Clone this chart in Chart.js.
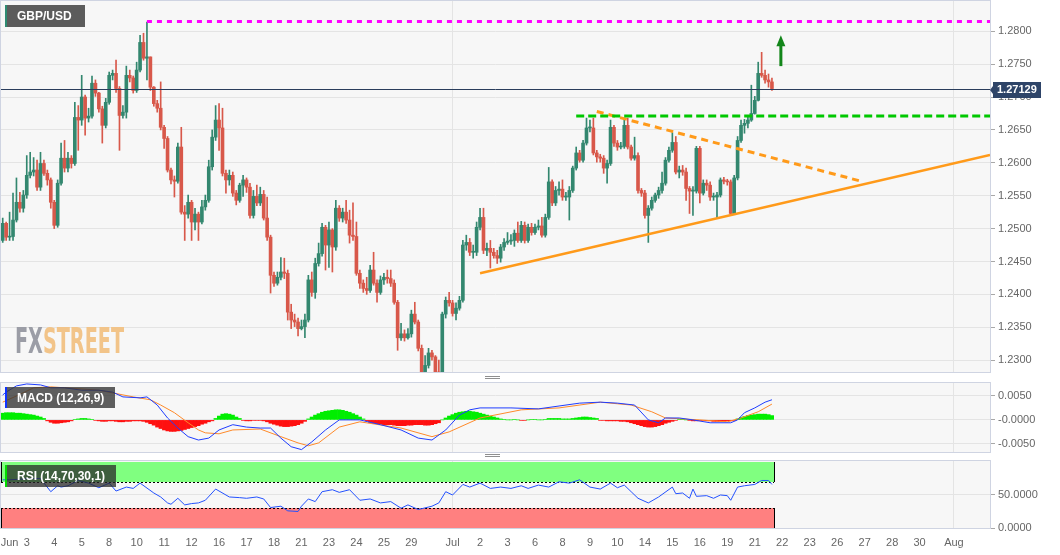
<!DOCTYPE html>
<html>
<head>
<meta charset="utf-8">
<title>GBP/USD</title>
<script src="https://cdn.jsdelivr.net/npm/chart.js@4.4.1/dist/chart.umd.min.js"></script>
<style>
  html, body { margin: 0; padding: 0; background: #fff; }
  #wrap { position: relative; width: 1060px; height: 555px; overflow: hidden; }
  #wrap canvas { position: absolute; left: 0; }
  .grip { position: absolute; left: 485px; width: 15px; height: 1px; border-top: 1px solid #8f8f8f; border-bottom: 1px solid #8f8f8f; }
</style>
</head>
<body>
<div id="wrap">
  <canvas id="price" width="1060" height="378" style="top:0"></canvas>
  <canvas id="macd" width="1060" height="77" style="top:379px"></canvas>
  <canvas id="rsi" width="1060" height="98" style="top:457px"></canvas>
  <div class="grip" style="top:376px"></div>
  <div class="grip" style="top:454px"></div>
</div>
<script>
// 4h candles, GBP/USD
const firstOpen = 1.2482;
const closes = [
  1.2508,1.2487,1.2488,1.2513,1.2540,1.2531,1.2551,1.2581,1.2586,1.2589,
  1.2563,1.2599,1.2584,1.2574,1.2540,1.2505,1.2569,1.2607,1.2592,1.2607,
  1.2599,1.2669,1.2665,1.2700,1.2668,1.2671,1.2721,1.2706,1.2682,1.2657,
  1.2692,1.2733,1.2736,1.2713,1.2672,1.2677,1.2733,1.2729,1.2710,1.2741,
  1.2783,1.2759,1.2761,1.2715,1.2690,1.2683,1.2654,1.2637,1.2589,1.2574,
  1.2572,1.2624,1.2525,1.2522,1.2540,1.2510,1.2522,1.2510,1.2533,1.2543,
  1.2594,1.2639,1.2665,1.2653,1.2584,1.2574,1.2581,1.2554,1.2543,1.2566,
  1.2574,1.2563,1.2520,1.2549,1.2539,1.2552,1.2516,1.2487,1.2429,1.2417,
  1.2426,1.2434,1.2432,1.2373,1.2361,1.2358,1.2348,1.2351,1.2361,1.2422,
  1.2403,1.2447,1.2462,1.2502,1.2475,1.2498,1.2472,1.2531,1.2516,1.2525,
  1.2513,1.2490,1.2488,1.2432,1.2417,1.2409,1.2406,1.2437,1.2417,1.2403,
  1.2422,1.2426,1.2424,1.2417,1.2388,1.2334,1.2340,1.2334,1.2340,1.2370,
  1.2358,1.2318,1.2280,1.2292,1.2311,1.2305,1.2282,1.2272,1.2370,1.2391,
  1.2387,1.2371,1.2379,1.2391,1.2475,1.2479,1.2464,1.2464,1.2502,1.2517,
  1.2467,1.2470,1.2464,1.2459,1.2455,1.2472,1.2479,1.2481,1.2482,1.2493,
  1.2482,1.2505,1.2482,1.2502,1.2494,1.2502,1.2504,1.2490,1.2517,1.2571,
  1.2539,1.2558,1.2560,1.2548,1.2548,1.2558,1.2592,1.2615,1.2604,1.2630,
  1.2653,1.2653,1.2615,1.2609,1.2607,1.2592,1.2599,1.2654,1.2630,1.2624,
  1.2625,1.2657,1.2624,1.2607,1.2611,1.2558,1.2554,1.2520,1.2531,1.2543,
  1.2551,1.2558,1.2569,1.2604,1.2619,1.2631,1.2586,1.2589,1.2586,1.2561,
  1.2557,1.2557,1.2622,1.2554,1.2569,1.2566,1.2548,1.2548,1.2551,1.2574,
  1.2572,1.2571,1.2523,1.2577,1.2634,1.2657,1.2660,1.2665,1.2675,1.2695,
  1.2736,1.2733,1.2726,1.2723,1.27129
];
const highs = [
  1.2516,1.2510,1.2525,1.2554,1.2577,1.2555,1.2558,1.2611,1.2616,1.2608,
  1.2604,1.2616,1.2604,1.2589,1.2577,1.2543,1.2574,1.2630,1.2634,1.2616,
  1.2611,1.2692,1.2687,1.2733,1.2703,1.2683,1.2732,1.2726,1.2707,1.2686,
  1.2698,1.2738,1.2741,1.2756,1.2716,1.2687,1.2747,1.2741,1.2732,1.2753,
  1.2794,1.2797,1.2814,1.2761,1.2716,1.2695,1.2723,1.2657,1.2640,1.2592,
  1.2580,1.2630,1.2654,1.2535,1.2551,1.2543,1.2531,1.2525,1.2543,1.2551,
  1.2604,1.2650,1.2687,1.2690,1.2683,1.2589,1.2589,1.2586,1.2558,1.2569,
  1.2581,1.2577,1.2569,1.2558,1.2566,1.2563,1.2558,1.2548,1.2490,1.2434,
  1.2434,1.2456,1.2455,1.2437,1.2385,1.2370,1.2364,1.2361,1.2370,1.2429,
  1.2434,1.2455,1.2478,1.2508,1.2505,1.2510,1.2500,1.2543,1.2535,1.2531,
  1.2543,1.2528,1.2539,1.2510,1.2437,1.2422,1.2426,1.2444,1.2464,1.2422,
  1.2428,1.2432,1.2437,1.2437,1.2422,1.2391,1.2356,1.2346,1.2348,1.2376,
  1.2388,1.2361,1.2323,1.2307,1.2318,1.2315,1.2307,1.2300,1.2373,1.2396,
  1.2403,1.2391,1.2387,1.2397,1.2482,1.2490,1.2485,1.2475,1.2510,1.2531,
  1.2531,1.2478,1.2482,1.2470,1.2467,1.2476,1.2485,1.2494,1.2491,1.2498,
  1.2510,1.2511,1.2510,1.2507,1.2508,1.2507,1.2513,1.2517,1.2522,1.2593,
  1.2574,1.2564,1.2571,1.2574,1.2555,1.2564,1.2595,1.2624,1.2619,1.2634,
  1.2668,1.2665,1.2668,1.2619,1.2613,1.2611,1.2604,1.2665,1.2657,1.2634,
  1.2631,1.2665,1.2668,1.2627,1.2639,1.2615,1.2561,1.2558,1.2535,1.2548,
  1.2554,1.2563,1.2586,1.2608,1.2624,1.2646,1.2640,1.2595,1.2596,1.2592,
  1.2564,1.2564,1.2625,1.2625,1.2574,1.2574,1.2571,1.2554,1.2555,1.2577,
  1.2578,1.2575,1.2574,1.2581,1.2640,1.2665,1.2666,1.2671,1.2718,1.2701,
  1.2753,1.2768,1.2741,1.2735,1.2729
];
const lows = [
  1.2479,1.2482,1.2482,1.2482,1.2510,1.2525,1.2525,1.2546,1.2577,1.2580,
  1.2558,1.2558,1.2581,1.2566,1.2531,1.2500,1.2502,1.2566,1.2586,1.2586,
  1.2592,1.2596,1.2619,1.2657,1.2642,1.2662,1.2668,1.2701,1.2677,1.2630,
  1.2653,1.2689,1.2726,1.2707,1.2619,1.2668,1.2668,1.2723,1.2706,1.2707,
  1.2738,1.2756,1.2726,1.2710,1.2686,1.2677,1.2650,1.2622,1.2586,1.2568,
  1.2548,1.2569,1.2522,1.2482,1.2516,1.2482,1.2498,1.2482,1.2507,1.2528,
  1.2540,1.2589,1.2634,1.2619,1.2580,1.2554,1.2566,1.2549,1.2536,1.2540,
  1.2549,1.2555,1.2516,1.2516,1.2535,1.2535,1.2513,1.2482,1.2402,1.2412,
  1.2414,1.2422,1.2424,1.2361,1.2348,1.2351,1.2337,1.2346,1.2334,1.2358,
  1.2397,1.2394,1.2443,1.2458,1.2437,1.2441,1.2434,1.2467,1.2511,1.2510,
  1.2508,1.2478,1.2482,1.2429,1.2409,1.2403,1.2400,1.2403,1.2414,1.2388,
  1.2400,1.2415,1.2417,1.2412,1.2385,1.2315,1.2330,1.2329,1.2332,1.2335,
  1.2355,1.2314,1.2272,1.2270,1.2288,1.2300,1.2272,1.2254,1.2266,1.2364,
  1.2382,1.2367,1.2361,1.2376,1.2388,1.2467,1.2459,1.2455,1.2459,1.2498,
  1.2462,1.2459,1.2440,1.2455,1.2447,1.2449,1.2467,1.2476,1.2476,1.2473,
  1.2479,1.2479,1.2478,1.2479,1.2490,1.2491,1.2498,1.2487,1.2487,1.2514,
  1.2535,1.2535,1.2551,1.2543,1.2543,1.2513,1.2555,1.2589,1.2601,1.2601,
  1.2627,1.2647,1.2612,1.2601,1.2601,1.2584,1.2569,1.2596,1.2625,1.2619,
  1.2621,1.2622,1.2621,1.2604,1.2604,1.2554,1.2549,1.2516,1.2479,1.2528,
  1.2540,1.2546,1.2554,1.2566,1.2601,1.2616,1.2583,1.2577,1.2581,1.2543,
  1.2523,1.2520,1.2554,1.2539,1.2551,1.2558,1.2543,1.2543,1.2516,1.2548,
  1.2568,1.2566,1.2520,1.2522,1.2574,1.2631,1.2645,1.2653,1.2663,1.2674,
  1.2694,1.2730,1.2721,1.2715,1.2710
];
// each candle opens where the previous one closed
const opens = [firstOpen].concat(closes.slice(0, -1));

// drawn levels: [bar, price]
const highLevel = [[42, 1.2815], [287.5, 1.2815]];
const breakLevel = [[167, 1.2671], [287.5, 1.2671]];
const fallingLine = [[173, 1.2678], [250, 1.2572]];
const risingLine = [[139, 1.2432], [287.5, 1.2612]];
const arrowMark = { bar: 226.6, from: 1.2747, to: 1.2794 };

// MACD (12,26,9): [bar, value]
const macdLine = [
  [0,0.0052],[1,0.0058],[4,0.0071],[7,0.0075],[11,0.0073],[14,0.0067],[18,0.0067],[23,0.0062],[28,0.0062],[32,0.0058],
  [35,0.0048],[40,0.0046],[42,0.0048],[45,0.0031],[48,0.0004],[51,-0.0017],[54,-0.0035],[57,-0.0042],[60,-0.0038],[63,-0.0021],
  [67,-0.0010],[71,-0.0015],[75,-0.0017],[78,-0.0017],[81,-0.0038],[84,-0.0056],[87,-0.0062],[90,-0.0046],[94,-0.0021],[98,0.0000],
  [104,0.0000],[110,-0.0010],[116,-0.0021],[121,-0.0038],[125,-0.0042],[129,-0.0021],[133,0.0010],[136,0.0021],[139,0.0025],[148,0.0025],
  [156,0.0023],[162,0.0029],[168,0.0035],[174,0.0037],[179,0.0035],[184,0.0031],[188,0.0000],[191,-0.0006],[193,0.0004],[197,0.0004],
  [201,0.0000],[206,-0.0006],[212,-0.0006],[214,0.0000],[216,0.0015],[219,0.0025],[222,0.0037],[224,0.0042]
];
const signalLine = [
  [0,0.0037],[4,0.0050],[9,0.0067],[14,0.0069],[18,0.0067],[28,0.0062],[38,0.0048],[43,0.0042],[46,0.0031],[50,0.0015],
  [54,-0.0006],[57,-0.0021],[59,-0.0027],[63,-0.0029],[67,-0.0021],[75,-0.0019],[81,-0.0035],[86,-0.0048],[89,-0.0054],[92,-0.0048],
  [98,-0.0015],[104,-0.0004],[116,-0.0017],[125,-0.0035],[130,-0.0025],[139,0.0004],[151,0.0021],[162,0.0025],[174,0.0037],[183,0.0031],
  [189,0.0017],[193,0.0004],[203,0.0000],[211,-0.0004],[215,0.0004],[220,0.0017],[224,0.0033]
];
const macdHist = [
  0.0014,0.0015,0.0015,0.0015,0.0014,0.0014,0.0013,0.0012,0.0011,0.0010,0.0008,0.0006,0.0003,
  -0.0002,-0.0005,-0.0007,-0.0007,-0.0006,-0.0005,-0.0004,-0.0002,
  0.0001,0.0002,0.0003,0.0003,0.0002,0.0001,
  -0.0001,-0.0002,-0.0003,-0.0003,-0.0002,-0.0002,-0.0003,-0.0004,-0.0004,-0.0003,-0.0003,-0.0002,-0.0002,-0.0002,
  -0.0003,-0.0005,-0.0008,-0.0011,-0.0015,-0.0018,-0.0021,-0.0023,-0.0024,-0.0024,-0.0023,-0.0022,-0.0020,-0.0018,-0.0016,-0.0014,-0.0012,-0.0009,-0.0007,-0.0004,-0.0002,
  0.0003,0.0008,0.0012,0.0013,0.0012,0.0010,0.0006,0.0003,
  -0.0001,-0.0002,-0.0002,-0.0001,-0.0001,-0.0001,
  -0.0002,-0.0004,-0.0007,-0.0009,-0.0011,-0.0013,-0.0014,-0.0014,-0.0013,-0.0012,-0.0010,-0.0007,-0.0003,
  0.0002,0.0006,0.0010,0.0013,0.0016,0.0018,0.0019,0.0020,0.0021,0.0021,0.0020,0.0018,0.0016,0.0013,0.0010,
  0.0006,0.0002,-0.0002,-0.0005,-0.0007,-0.0008,-0.0009,-0.0010,-0.0010,-0.0010,-0.0011,-0.0012,-0.0012,-0.0012,-0.0011,-0.0011,-0.0010,-0.0010,-0.0010,-0.0011,-0.0011,-0.0010,-0.0008,-0.0006,
  0.0000,0.0004,0.0008,0.0011,0.0014,0.0016,0.0017,0.0018,0.0018,0.0017,0.0016,0.0014,0.0012,0.0010,0.0008,0.0006,0.0004,
  0.0002,0.0001,0.0000,0.0000,0.0001,0.0000,-0.0001,-0.0001,0.0000,0.0001,0.0001,0.0000,0.0000,0.0001,0.0003,0.0003,0.0003,0.0003,0.0002,0.0002,0.0002,0.0003,0.0004,0.0005,0.0006,0.0006,0.0005,0.0004,0.0003,
  -0.0001,-0.0001,-0.0002,-0.0002,-0.0002,-0.0002,-0.0003,-0.0003,-0.0004,-0.0006,-0.0008,-0.0010,-0.0012,-0.0014,-0.0015,-0.0015,-0.0014,-0.0012,-0.0010,-0.0007,-0.0005,-0.0003,-0.0001,
  0.0001,0.0001,0.0000,-0.0001,-0.0002,-0.0002,-0.0001,-0.0001,-0.0002,-0.0002,-0.0003,-0.0003,-0.0003,-0.0003,-0.0002,-0.0002,-0.0001,
  0.0002,0.0005,0.0007,0.0009,0.0010,0.0011,0.0012,0.0012,0.0012,0.0011,0.0009
];

// RSI (14): [bar, value]
const rsiPoints = [
  [0,73],[2,73],[8,75],[11,75],[14,55],[16,64],[17,62],[19,64],[22,72],[25,68],[28,61],[31,68],[33,56],[36,62],[38,60],
  [40,68],[44,53],[46,47],[48,38],[49,36],[51,45],[53,35],[55,37],[57,38],[59,42],[62,59],[66,47],[69,46],[71,45],[74,47],
  [76,44],[78,31],[81,33],[83,26],[86,25],[87,33],[89,44],[91,40],[93,55],[96,58],[98,54],[101,58],[104,42],[107,44],[110,38],
  [113,40],[116,30],[118,35],[121,28],[125,33],[127,38],[129,55],[131,50],[134,66],[136,62],[139,68],[142,60],[145,62],[148,60],[151,64],
  [153,60],[156,65],[159,62],[162,70],[165,68],[168,73],[171,62],[174,59],[177,68],[179,61],[181,65],[183,55],[185,45],[188,38],[191,47],
  [195,62],[196,52],[198,53],[200,45],[201,59],[202,48],[205,49],[207,45],[209,50],[211,49],[212,42],[214,62],[216,64],[219,66],[221,72],
  [223,72],[224,66]
];

// axis ticks
const priceTicks = [1.23, 1.235, 1.24, 1.245, 1.25, 1.255, 1.26, 1.265, 1.27, 1.275, 1.28];
const macdTicks = [-0.005, 0, 0.005];
const rsiTicks = [0, 50];
const dateTickBars = [2, 7, 15, 23, 31, 39, 47, 55, 63, 71, 79, 87, 95, 103, 111, 119, 131, 139, 147, 155, 163, 171, 179, 187, 195, 203, 211, 219, 227, 235, 243, 251, 259, 267, 277];
const dateTickLabels = ['Jun','3','4','5','8','10','11','12','16','17','18','21','23','24','25','29','Jul','2','3','6','8','9','10','14','15','16','19','21','22','23','26','27','28','30','Aug'];
const monthBars = [131, 277];

Chart.defaults.font.family = '"Liberation Sans", Arial, Helvetica, sans-serif';
Chart.defaults.font.size = 11;
Chart.defaults.color = '#666';

const X_MIN = -0.5, X_MAX = 287.5;
const GRID = '#e4e4e4';
const lastPrice = closes[closes.length - 1];
const upColor = '#33876f', downColor = '#d8584a';
const candleColors = closes.map((c, i) => (c >= opens[i] ? upColor : downColor));

function fixedTicks(values) {
  return scale => { scale.ticks = values.map(v => ({ value: v })); };
}

// labels may overhang the panel edges, so no extra room is reserved for them
function noOverhang(s) {
  s.paddingTop = 0; s.paddingBottom = 0; s.paddingLeft = 0; s.paddingRight = 0;
}

function hiddenX() {
  return {
    type: 'linear', min: X_MIN, max: X_MAX, offset: false,
    afterBuildTicks: fixedTicks(monthBars),
    ticks: { display: false },
    grid: { color: GRID, drawTicks: false, offset: false },
    border: { display: false },
    afterFit: s => { s.height = 0; noOverhang(s); }
  };
}

function rightY(min, max, ticks, fmt) {
  return {
    position: 'right', min, max,
    afterBuildTicks: fixedTicks(ticks),
    ticks: { callback: fmt, padding: 3, color: '#666' },
    grid: { color: GRID, tickLength: 5, tickColor: '#a8a8a8' },
    border: { display: false },
    afterFit: s => { s.width = 70; noOverhang(s); }
  };
}

function lineSet(points, color, width, dash) {
  return {
    type: 'line', data: points.map(([x, y]) => ({ x, y })),
    borderColor: color, borderWidth: width, borderDash: dash || [],
    pointRadius: 0, order: 0, borderCapStyle: 'butt'
  };
}

function drawTag(ctx, x, y, w, h, bg, stripe, text) {
  ctx.save();
  ctx.fillStyle = bg;
  ctx.fillRect(x, y, w, h);
  ctx.fillStyle = stripe;
  ctx.fillRect(x, y, 2, h);
  ctx.fillStyle = '#fff';
  ctx.font = 'bold 12px "Liberation Sans", Arial, sans-serif';
  ctx.textBaseline = 'middle';
  ctx.fillText(text, x + 12, y + h / 2 + 1);
  ctx.restore();
}

const panelFrame = {
  id: 'panelFrame',
  beforeDraw(chart) {
    const { ctx, chartArea: a } = chart;
    ctx.save();
    ctx.fillStyle = '#f7f7f7';
    ctx.fillRect(a.left, a.top, a.right - a.left, a.bottom - a.top);
    ctx.restore();
  },
  afterDraw(chart) {
    const { ctx, chartArea: a } = chart;
    ctx.save();
    ctx.strokeStyle = '#cfd4e2';
    ctx.lineWidth = 1;
    ctx.strokeRect(a.left - 0.5, a.top - 0.5, a.right - a.left + 1, a.bottom - a.top + 1);
    ctx.restore();
  }
};

const baseOptions = {
  responsive: false, animation: false, events: [],
  plugins: { legend: { display: false }, tooltip: { enabled: false } }
};

// price pane
new Chart(document.getElementById('price'), {
  type: 'bar',
  data: {
    datasets: [
      lineSet(highLevel, '#ff00ff', 3, [5, 5]),
      lineSet(breakLevel, '#00c800', 3, [8, 4]),
      lineSet(fallingLine, '#ff9a1a', 3, [7, 5]),
      lineSet(risingLine, '#ff9a1a', 2.5),
      { label: 'wicks', data: lows.map((l, i) => ({ x: i, y: [l, highs[i]] })),
        backgroundColor: candleColors, barThickness: 1, grouped: false, order: 3 },
      { label: 'bodies', data: opens.map((o, i) => ({ x: i, y: [o, closes[i]] })),
        backgroundColor: candleColors, barThickness: 3, minBarLength: 1, grouped: false, order: 2 }
    ]
  },
  options: Object.assign({}, baseOptions, {
    layout: { padding: { left: 1, top: 1, right: 0, bottom: 6 } },
    scales: {
      x: hiddenX(),
      y: rightY(1.2282, 1.2846, priceTicks, v => v.toFixed(4))
    }
  }),
  plugins: [panelFrame, {
    id: 'priceExtras',
    beforeDatasetsDraw(chart) {
      const { ctx } = chart;
      ctx.save();
      ctx.font = 'bold 35px "Liberation Sans Narrow", "DejaVu Sans Condensed", "Liberation Sans", sans-serif';
      const w = ctx.measureText('FXSTREET').width;
      ctx.translate(15, 353);
      ctx.scale(109 / w, 1);
      ctx.fillStyle = '#9b9da6';
      ctx.fillText('FX', 0, 0);
      const fx = ctx.measureText('FX').width;
      ctx.fillStyle = '#f2c489';
      ctx.fillText('STREET', fx, 0);
      ctx.restore();
    },
    afterDatasetsDraw(chart) {
      const { ctx, chartArea: a, scales: { x, y } } = chart;
      ctx.save();
      const py = Math.round(y.getPixelForValue(lastPrice)) + 0.5;
      ctx.strokeStyle = '#2a3d5c';
      ctx.lineWidth = 1;
      ctx.beginPath();
      ctx.moveTo(a.left, py);
      ctx.lineTo(a.right, py);
      ctx.stroke();
      // breakout arrow
      const ax = x.getPixelForValue(arrowMark.bar);
      const yb = y.getPixelForValue(arrowMark.from);
      const yt = y.getPixelForValue(arrowMark.to);
      ctx.fillStyle = '#13861a';
      ctx.fillRect(ax - 1.5, yt + 10, 3, yb - yt - 10);
      ctx.beginPath();
      ctx.moveTo(ax - 4.5, yt + 11);
      ctx.lineTo(ax + 4.5, yt + 11);
      ctx.lineTo(ax, yt);
      ctx.closePath();
      ctx.fill();
      ctx.restore();
    },
    afterDraw(chart) {
      const { ctx, chartArea: a, scales: { y } } = chart;
      const py = Math.round(y.getPixelForValue(lastPrice));
      ctx.save();
      ctx.fillStyle = '#2e4468';
      ctx.fillRect(a.right + 3, py - 7, 48, 16);
      ctx.beginPath();
      ctx.moveTo(a.right, py + 1);
      ctx.lineTo(a.right + 3, py - 3);
      ctx.lineTo(a.right + 3, py + 5);
      ctx.closePath();
      ctx.fill();
      ctx.fillStyle = '#fff';
      ctx.font = 'bold 11px "Liberation Sans", Arial, sans-serif';
      ctx.textBaseline = 'middle';
      ctx.fillText(lastPrice.toFixed(5), a.right + 7, py + 1);
      ctx.restore();
      drawTag(ctx, 5, 5, 80, 22, '#5c5c5c', '#2e8b72', 'GBP/USD');
    }
  }]
});

// MACD pane
new Chart(document.getElementById('macd'), {
  type: 'bar',
  data: {
    datasets: [
      { type: 'line', data: macdLine.map(([x, y]) => ({ x, y })), borderColor: '#1f3dff', borderWidth: 1, pointRadius: 0, order: 0 },
      { type: 'line', data: signalLine.map(([x, y]) => ({ x, y })), borderColor: '#ff8a2a', borderWidth: 1, pointRadius: 0, order: 1 },
      { data: macdHist.map((v, i) => ({ x: i, y: v })), backgroundColor: macdHist.map(v => (v >= 0 ? '#00ee00' : '#ff1010')),
        barPercentage: 1, categoryPercentage: 1, grouped: false, order: 2 }
    ]
  },
  options: Object.assign({}, baseOptions, {
    layout: { padding: { left: 1, top: 4, right: 0, bottom: 4 } },
    scales: {
      x: hiddenX(),
      y: rightY(-0.0067, 0.0077, macdTicks, v => (v === 0 ? '-0.0000' : v.toFixed(4)))
    }
  }),
  plugins: [panelFrame, {
    id: 'macdTag',
    afterDraw(chart) { drawTag(chart.ctx, 5, 8, 110, 21, 'rgba(55,55,55,0.8)', '#1033ff', 'MACD (12,26,9)'); }
  }]
});

// RSI pane
const rsiX = hiddenX();
Object.assign(rsiX, {
  afterBuildTicks: fixedTicks(dateTickBars),
  ticks: { display: true, autoSkip: false, maxRotation: 0, minRotation: 0, padding: 8, color: '#666',
           callback: (v, i) => dateTickLabels[i] },
  grid: { drawTicks: false, offset: false,
          color: c => (c.tick && monthBars.includes(c.tick.value) ? GRID : 'rgba(0,0,0,0)') },
  afterFit: s => { s.height = 27; noOverhang(s); }
});

new Chart(document.getElementById('rsi'), {
  type: 'line',
  data: {
    datasets: [
      { data: rsiPoints.map(([x, y]) => ({ x, y })), borderColor: '#2452ff', borderWidth: 1, pointRadius: 0 }
    ]
  },
  options: Object.assign({}, baseOptions, {
    layout: { padding: { left: 1, top: 4, right: 0, bottom: 0 } },
    scales: {
      x: rsiX,
      y: rightY(0, 101.5, rsiTicks, v => v.toFixed(4))
    }
  }),
  plugins: [panelFrame, {
    id: 'rsiBands',
    beforeDatasetsDraw(chart) {
      const { ctx, chartArea: a, scales: { x, y } } = chart;
      const x0 = a.left, x1 = Math.round(x.getPixelForValue(closes.length - 0.5));
      const y100 = y.getPixelForValue(100), y70 = Math.round(y.getPixelForValue(70));
      const y30 = Math.round(y.getPixelForValue(30)), y0 = y.getPixelForValue(0);
      ctx.save();
      ctx.fillStyle = '#80ff80';
      ctx.fillRect(x0, y100, x1 - x0, y70 - y100);
      ctx.fillStyle = '#ff8080';
      ctx.fillRect(x0, y30, x1 - x0, y0 - y30);
      ctx.strokeStyle = '#000';
      ctx.lineWidth = 1;
      ctx.setLineDash([2, 2]);
      ctx.beginPath();
      ctx.moveTo(x0, y70 + 0.5); ctx.lineTo(x1, y70 + 0.5);
      ctx.moveTo(x0, y30 + 0.5); ctx.lineTo(x1, y30 + 0.5);
      ctx.stroke();
      ctx.setLineDash([]);
      ctx.beginPath();
      ctx.moveTo(x1 + 0.5, y100); ctx.lineTo(x1 + 0.5, y70);
      ctx.moveTo(x1 + 0.5, y30); ctx.lineTo(x1 + 0.5, y0);
      ctx.moveTo(x0 + 0.5, y100); ctx.lineTo(x0 + 0.5, y70);
      ctx.moveTo(x0 + 0.5, y30); ctx.lineTo(x0 + 0.5, y0);
      ctx.stroke();
      ctx.restore();
    },
    afterDraw(chart) { drawTag(chart.ctx, 5, 8, 111, 22, 'rgba(40,40,40,0.75)', '#00dd00', 'RSI (14,70,30,1)'); }
  }]
});
</script>
</body>
</html>
